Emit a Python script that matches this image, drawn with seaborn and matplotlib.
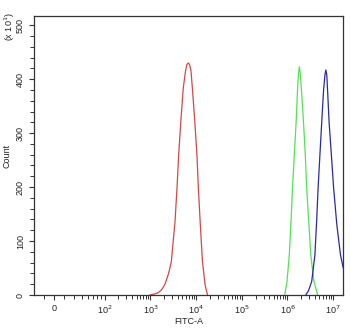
import numpy as np
import pandas as pd
import seaborn as sns
import matplotlib
matplotlib.use("Agg")
import matplotlib.pyplot as plt
from matplotlib.ticker import FixedLocator, NullFormatter

# FITC-A intensity (log10) and count (x10^1)
red_log = [2.99, 3.10, 3.17, 3.25, 3.32, 3.40, 3.46, 3.54, 3.585, 3.62, 3.67, 3.72, 3.77, 3.80, 3.83,
           3.86, 3.89, 3.92, 3.97, 4.02, 4.05, 4.09, 4.14, 4.20, 4.25]
red_count = [0, 2, 4, 10, 20, 40, 62, 136, 200, 259, 325, 383, 415, 427, 430,
             427, 415, 383, 325, 259, 200, 136, 62, 18, 0]

green_log = [5.94, 5.99, 6.04, 6.08, 6.11, 6.15, 6.19, 6.22, 6.24, 6.26, 6.28, 6.31, 6.35, 6.39,
             6.42, 6.47, 6.51, 6.58, 6.66]
green_count = [0, 25, 74, 140, 198, 260, 321, 380, 410, 423, 410, 375, 321, 260,
               198, 130, 74, 25, 0]

blue_log = [6.40, 6.46, 6.53, 6.60, 6.64, 6.67, 6.71, 6.75, 6.79, 6.82, 6.84, 6.86, 6.88, 6.91,
            6.96, 7.01, 7.08, 7.16, 7.22]
blue_count = [0, 8, 25, 74, 140, 198, 260, 321, 380, 408, 417, 408, 375, 321,
              260, 198, 130, 74, 50]

x_ticks = [0, 1e2, 1e3, 1e4, 1e5, 1e6, 1e7]
x_ticklabels = ["0", "10$^2$", "10$^3$", "10$^4$", "10$^5$", "10$^6$", "10$^7$"]
y_ticks = [0, 100, 200, 300, 400, 500]

sns.set_theme(style="white")
plt.rcParams["font.family"] = ["Liberation Sans", "DejaVu Sans"]

frames = []
for name, lg, cnt in [("red", red_log, red_count), ("green", green_log, green_count), ("blue", blue_log, blue_count)]:
    frames.append(pd.DataFrame({"sample": name, "fitc": 10 ** np.array(lg), "count": cnt}))
df = pd.concat(frames, ignore_index=True)

fig = plt.figure(figsize=(3.5, 3.28), dpi=100)
ax = fig.add_axes([34 / 350, 33 / 328, 309 / 350, 279 / 328])

sns.lineplot(data=df, x="fitc", y="count", hue="sample", units="sample", estimator=None,
             sort=False, palette={"red": "#d24848", "green": "#55e055", "blue": "#2a2aa8"},
             linewidth=0.9, legend=False, ax=ax)

ax.set_xscale("symlog", linthresh=100, linscale=1)
ax.set_xlim(-39, 1.64e7)
ax.set_ylim(0, 517)

ax.set_xticks(x_ticks)
ax.set_xticklabels(x_ticklabels)
minor_x = [-20, 20, 40, 55, 68, 78, 86, 93]
for d in range(2, 7):
    minor_x += [k * 10 ** d for k in range(2, 10)]
ax.xaxis.set_minor_locator(FixedLocator(minor_x))
ax.xaxis.set_minor_formatter(NullFormatter())

ax.set_yticks(y_ticks)
ax.set_yticklabels([str(v) for v in y_ticks], rotation=90, va="center")
ax.yaxis.set_minor_locator(FixedLocator(np.arange(0, 520, 20)))

ax.tick_params(axis="both", which="major", direction="out", length=3.5, width=0.8,
               labelsize=6.5, color="#333333", labelcolor="#222222", pad=3,
               bottom=True, left=True)
ax.tick_params(axis="both", which="minor", direction="out", length=3, width=0.7,
               color="#333333", bottom=True, left=True)
ax.tick_params(axis="x", which="major", pad=3)

for s in ax.spines.values():
    s.set_color("#333333")
    s.set_linewidth(0.9)

ax.set_xlabel("FITC-A", fontsize=6.5, color="#222222")
ax.xaxis.set_label_coords(0.5, -0.078)
ax.set_ylabel("Count", fontsize=6.5, color="#222222")
ax.yaxis.set_label_coords(-0.072, 0.5)
fig.text(10 / 350, 1 - 27 / 328, "(x 10$^1$)", rotation=90, ha="center", va="center",
         fontsize=6.5, color="#222222")

fig.savefig("out.png", dpi=100)
